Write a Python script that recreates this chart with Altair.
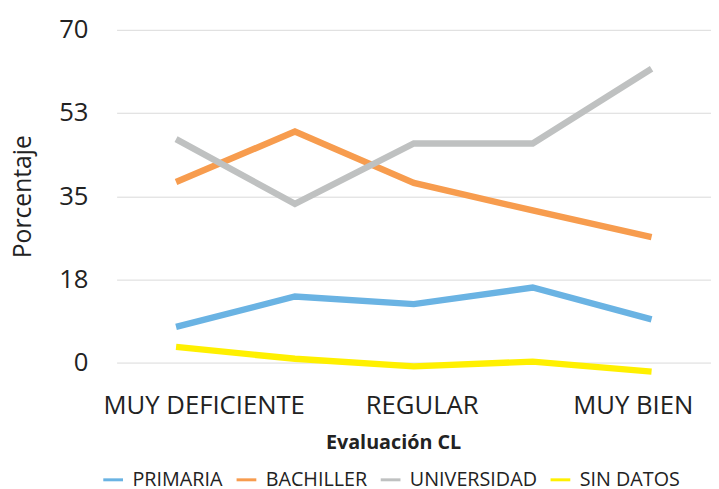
import altair as alt
import pandas as pd

categories = ["MUY DEFICIENTE", "DEFICIENTE", "REGULAR", "BIEN", "MUY BIEN"]
series_names = ["PRIMARIA", "BACHILLER", "UNIVERSIDAD", "SIN DATOS"]
primaria = [7.5, 13.9, 12.3, 15.8, 9.1]
bachiller = [38.0, 48.6, 37.8, 32.0, 26.4]
universidad = [47.0, 33.4, 46.1, 46.1, 61.8]
sin_datos = [3.3, 0.8, -0.8, 0.2, -1.9]
colors = ["#6AB3E3", "#F79C4E", "#BFC1C1", "#FFF000"]
y_ticks = [0, 17.5, 35, 52.5, 70]

rows = []
for name, vals in zip(series_names, [primaria, bachiller, universidad, sin_datos]):
    for c, v in zip(categories, vals):
        rows.append({"cat": c, "serie": name, "valor": v})
df = pd.DataFrame(rows)

font = "Open Sans"
W, H = 602, 337

chart = alt.Chart(df).mark_line(strokeWidth=6.5, clip=False).encode(
    x=alt.X("cat:N", sort=categories, scale=alt.Scale(type="point", padding=0.5),
            axis=alt.Axis(title="Evaluación CL", grid=False, ticks=False, domain=False,
                          labelAngle=0, labelFontSize=26, labelColor="#222",
                          labelFont=font, labelPadding=31, labelLimit=0,
                          labelExpr="datum.label == 'DEFICIENTE' || datum.label == 'BIEN' ? '' : datum.label",
                          labelOffset=alt.ExprRef("datum.value == 'MUY DEFICIENTE' ? 28 : (datum.value == 'MUY BIEN' ? -19 : (datum.value == 'REGULAR' ? 8 : 0))"),
                          titleFont=font, titleFontSize=20, titleFontWeight="bold",
                          titleColor="#222", titleX=280, titleY=81,
                          titleAlign="center", titleBaseline="middle")),
    y=alt.Y("valor:Q", scale=alt.Scale(domain=[0, 70], nice=False, zero=False),
            axis=alt.Axis(title="Porcentaje", values=y_ticks, format=".0f",
                          ticks=False, domain=False, gridColor="#D9D9D9", gridWidth=1,
                          labelFontSize=26, labelColor="#222", labelFont=font,
                          labelPadding=29,
                          titleFont=font, titleFontSize=25, titleFontWeight="normal",
                          titleColor="#222", titleX=-95, titleY=H / 2,
                          titleAngle=270, titleAlign="center", titleBaseline="middle")),
    color=alt.Color("serie:N", sort=series_names,
                    scale=alt.Scale(domain=series_names, range=colors),
                    legend=alt.Legend(orient="none", legendX=-15, legendY=444,
                                      title=None, direction="horizontal",
                                      symbolType="stroke", symbolStrokeWidth=3,
                                      symbolSize=400, labelFontSize=20,
                                      labelFont=font, labelColor="#222",
                                      labelOffset=8, columnPadding=7)),
    detail="serie:N",
).properties(
    width=W, height=H,
    autosize=alt.AutoSizeParams(type="none"),
    padding={"left": 110, "top": 19, "right": 0, "bottom": 130},
).configure_view(stroke=None)

chart.save("out.html", embed_options={"renderer": "svg", "actions": False})
